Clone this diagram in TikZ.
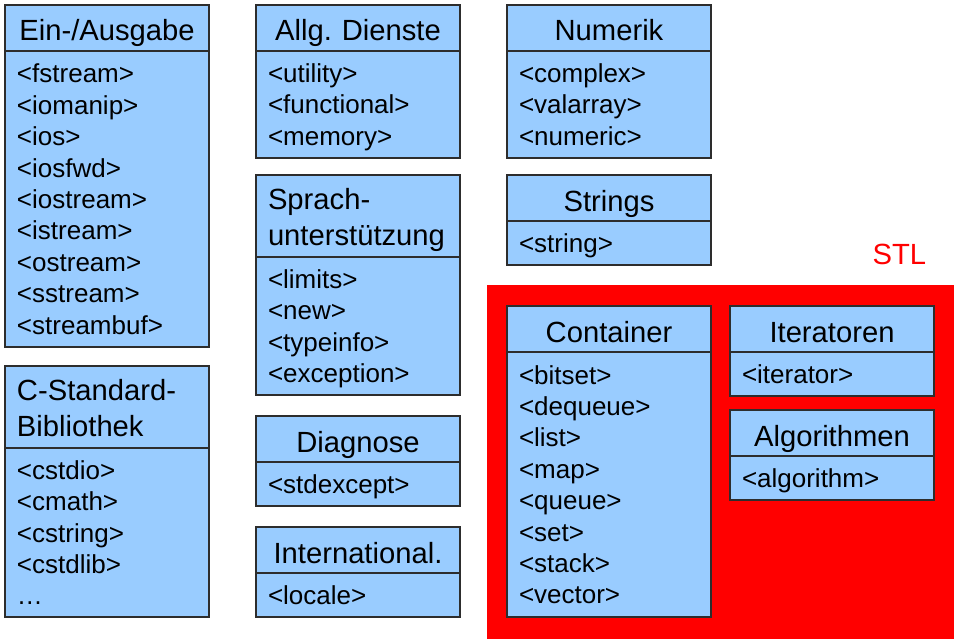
\documentclass[tikz,border=0pt]{standalone}
\usepackage{fontspec}
\setmainfont{Liberation Sans}
\frenchspacing
\usetikzlibrary{positioning, fit, backgrounds}

\definecolor{boxblue}{RGB}{153,204,255}
\definecolor{boxline}{RGB}{45,45,45}
\definecolor{stlred}{RGB}{255,0,0}

\begin{document}
\begin{tikzpicture}
	[box/.style={draw=boxline, line width=0.75pt, fill=boxblue, outer sep=0pt, minimum width=102pt, text width=90pt, inner xsep=6pt, inner ysep=0pt},
	 head/.style={box, minimum height=23pt, align=center, text height=14.5pt, text depth=1.5pt, font=\fontsize{14.6}{18}\selectfont},
	 headtwo/.style={box, minimum height=41pt, align=left, text height=12.5pt, text depth=19pt, font=\fontsize{14.6}{18}\selectfont},
	 body/.style={box, align=left, font=\fontsize{13}{15.7}\selectfont,
	    execute at begin node={\rule{0pt}{13.5pt}}, execute at end node={\rule[-4pt]{0pt}{4pt}}},
	 stlframe/.style={fill=stlred, inner xsep=10pt, inner ysep=10.75pt},
	 stllabel/.style={text=stlred, inner sep=0pt, font=\fontsize{14.6}{18}\selectfont}]
   \useasboundingbox (0,0) rectangle (479pt,-321pt);

   % linke Spalte
   \node[head, anchor=north west] (ein-head) at (2.5pt,-2.5pt) {Ein-/Ausgabe};
   \node[body, minimum height=148pt] (ein-body) [below=0pt of ein-head]
      {<fstream>\\<iomanip>\\<ios>\\<iosfwd>\\<iostream>\\<istream>\\<ostream>\\<sstream>\\<streambuf>};
   \node[headtwo] (cstd-head) [below=9.5pt of ein-body] {C-Standard-\\Bibliothek};
   \node[body, minimum height=84.5pt] (cstd-body) [below=0pt of cstd-head]
      {<cstdio>\\<cmath>\\<cstring>\\<cstdlib>\\…};

   % mittlere Spalte
   \node[head] (allg-head) [right=23.5pt of ein-head] {Allg. Dienste};
   \node[body, minimum height=53.5pt] (allg-body) [below=0pt of allg-head]
      {<utility>\\<functional>\\<memory>};
   \node[headtwo] (sprach-head) [below=8.5pt of allg-body] {Sprach-\\unterstützung};
   \node[body, minimum height=69pt] (sprach-body) [below=0pt of sprach-head]
      {<limits>\\<new>\\<typeinfo>\\<exception>};
   \node[head] (diag-head) [below=10.5pt of sprach-body] {Diagnose};
   \node[body, minimum height=22pt] (diag-body) [below=0pt of diag-head] {<stdexcept>};
   \node[head] (intl-head) [below=10.5pt of diag-body] {International.};
   \node[body, minimum height=22pt] (intl-body) [below=0pt of intl-head] {<locale>};

   % rechte Spalten
   \node[head] (num-head) [right=23.5pt of allg-head] {Numerik};
   \node[body, minimum height=53.5pt] (num-body) [below=0pt of num-head]
      {<complex>\\<valarray>\\<numeric>};
   \node[head] (str-head) [below=8.5pt of num-body] {Strings};
   \node[body, minimum height=22pt] (str-body) [below=0pt of str-head] {<string>};

   % STL
   \node[head] (cont-head) [below=20.5pt of str-body] {Container};
   \node[body, minimum height=132.5pt] (cont-body) [below=0pt of cont-head]
      {<bitset>\\<dequeue>\\<list>\\<map>\\<queue>\\<set>\\<stack>\\<vector>};
   \node[head] (iter-head) [right=9.5pt of cont-head] {Iteratoren};
   \node[body, minimum height=22pt] (iter-body) [below=0pt of iter-head] {<iterator>};
   \node[head] (algo-head) [below=7pt of iter-body] {Algorithmen};
   \node[body, minimum height=22pt] (algo-body) [below=0pt of algo-head] {<algorithm>};

   \begin{scope}[on background layer]
      \node[stlframe, fit=(cont-head)(cont-body)(iter-head)(algo-body)] (stl-frame) {};
   \end{scope}
   \node[stllabel] (stl) at ([xshift=-27.5pt, yshift=15pt]stl-frame.north east) {STL};
\end{tikzpicture}
\end{document}
